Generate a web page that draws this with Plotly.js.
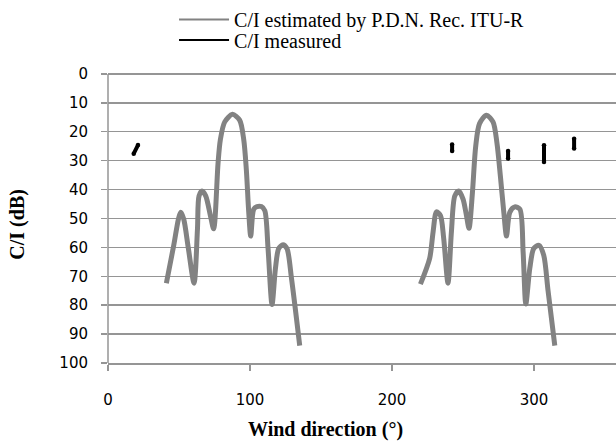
<!DOCTYPE html>
<html>
<head>
<meta charset="utf-8">
<script src="https://cdn.plot.ly/plotly-3.0.1.min.js"></script>
<style>html,body{margin:0;padding:0;background:#fff;}#chart{width:616px;height:441px;}</style>
</head>
<body>
<div id="chart"></div>
<script>
// Estimated C/I (two lobes groups, gap between them)
var estX = [41.1, 46.3, 49.6, 51.2, 53.3, 56.6, 60.6, 63.0, 64.1, 66.2, 68.8, 72.1, 74.4,
            77.5, 79.1, 82.2, 87.6, 92.7, 95.6, 97.4, 99.1, 100.5,
            102.6, 104.9, 108.0, 110.4, 112.7, 115.5, 117.9, 120.2, 123.2, 126.0, 129.2, 135.0,
            null,
            220.0, 226.5, 228.9, 231.3, 234.1, 236.4, 239.4, 241.8, 244.2, 247.0, 250.0, 252.4, 254.2,
            256.6, 258.9, 261.6, 266.5, 271.1, 273.9, 276.3, 278.7, 280.6,
            282.9, 286.4, 290.0, 292.3, 294.2, 297.0, 299.8, 303.5, 306.8, 309.9, 314.6];
var estY = [72.4, 59.3, 50.2, 47.9, 50.2, 60.4, 72.4, 53.6, 42.2, 40.5, 42.2, 49.0, 53.6,
            30.8, 22.8, 16.6, 14.0, 16.0, 22.8, 33.1, 47.9, 56.1,
            46.8, 45.9, 45.9, 47.3, 60.4, 79.8, 67.3, 60.4, 59.1, 60.4, 70.7, 94.0,
            null,
            72.7, 63.8, 54.7, 47.7, 49.0, 57.0, 72.4, 54.7, 42.2, 40.5, 43.3, 49.0, 53.4,
            41.1, 25.1, 17.2, 14.3, 16.6, 24.0, 35.4, 47.9, 56.1,
            47.9, 46.0, 46.8, 61.6, 79.6, 67.3, 60.4, 59.3, 62.7, 75.2, 94.0];
// Measured C/I
var measX = [18.1, 21.1, null, 242.3, 242.3, null, 281.7, 281.7, null, 307.0, 307.0, null, 328.2, 328.2];
var measY = [27.6, 24.6, null, 24.4, 26.7, null, 26.7, 29.3, null, 24.7, 30.5, null, 22.4, 25.8];

var xTicks = [0, 100, 200, 300];
var yTicks = [0, 10, 20, 30, 40, 50, 60, 70, 80, 90, 100];
var nameEst = 'C/I estimated by P.D.N. Rec. ITU-R';
var nameMeas = 'C/I measured';

var gray = '#828282';
var gridC = '#959595';

var traces = [
  {x: estX, y: estY, type: 'scatter', mode: 'lines', connectgaps: false,
   line: {color: gray, width: 5, shape: 'spline', smoothing: 0.8}, showlegend: false, hoverinfo: 'skip'},
  {x: measX, y: measY, type: 'scatter', mode: 'lines+markers', connectgaps: false,
   line: {color: '#000', width: 4}, marker: {color: '#000', size: 4.5}, showlegend: false},
  {x: [null], y: [null], type: 'scatter', mode: 'lines', name: nameEst,
   line: {color: gray, width: 2}, legend: 'legend'},
  {x: [null], y: [null], type: 'scatter', mode: 'lines', name: nameMeas,
   line: {color: '#000', width: 2}, legend: 'legend2'}
];

var serif = 'Liberation Serif, Times New Roman, serif';
var legFont = {family: serif, size: 20, color: '#000'};

var layout = {
  width: 616, height: 441,
  margin: {l: 108, r: 0, t: 67, b: 78, pad: 0},
  paper_bgcolor: '#fff', plot_bgcolor: '#fff',
  showlegend: true,
  xaxis: {
    range: [0, 357.7], tickvals: xTicks, ticktext: xTicks.map(String),
    showgrid: false, zeroline: false, showline: true, linecolor: gridC, linewidth: 1.5,
    ticks: 'outside', ticklen: 6, tickcolor: gridC, tickwidth: 1.5,
    tickfont: {family: 'DejaVu Sans', size: 15, color: '#000'}, ticklabelstandoff: 16
  },
  yaxis: {
    range: [100, -1], tickvals: yTicks, ticktext: yTicks.map(String),
    showgrid: true, gridcolor: gridC, gridwidth: 1.5, zeroline: false,
    showline: false,
    ticks: 'outside', ticklen: 6, tickcolor: gridC, tickwidth: 1.5,
    tickfont: {family: 'DejaVu Sans', size: 15, color: '#000'}, ticklabelstandoff: 10
  },
  shapes: [
    {type: 'line', xref: 'paper', yref: 'y', x0: 0, x1: 0, y0: 0, y1: 100,
     line: {color: gridC, width: 1.5}}
  ],
  legend: {x: 0.13, xanchor: 'left', y: 1.177, yanchor: 'middle', font: legFont, itemwidth: 50,
           bgcolor: 'rgba(0,0,0,0)', borderwidth: 0, tracegroupgap: 0},
  legend2: {x: 0.13, xanchor: 'left', y: 1.106, yanchor: 'middle', font: legFont, itemwidth: 50,
           bgcolor: 'rgba(0,0,0,0)', borderwidth: 0, tracegroupgap: 0},
  annotations: [
    {text: '<b>Wind direction (°)</b>', xref: 'paper', yref: 'paper', x: 0.429, y: -0.227,
     xanchor: 'center', yanchor: 'middle', showarrow: false,
     font: {family: serif, size: 20, color: '#000'}},
    {text: '<b>C/I (dB)</b>', xref: 'paper', yref: 'paper', x: -0.177, y: 0.474,
     xanchor: 'center', yanchor: 'middle', showarrow: false, textangle: -90,
     font: {family: serif, size: 20, color: '#000'}}
  ]
};

Plotly.newPlot('chart', traces, layout, {displayModeBar: false, staticPlot: true});
</script>
</body>
</html>
